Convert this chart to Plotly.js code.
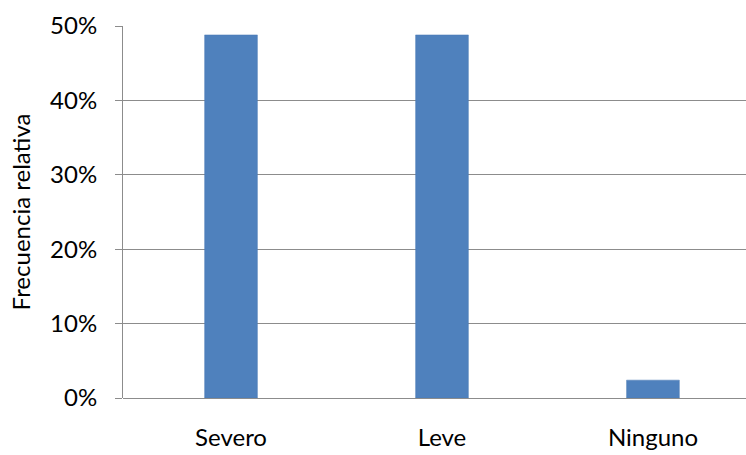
<!DOCTYPE html>
<html>
<head>
<meta charset="utf-8">
<script src="https://cdn.plot.ly/plotly-3.0.1.min.js"></script>
<style>
html,body{margin:0;padding:0;overflow:hidden;background:#fff;}
#chart{width:746px;height:455px;}
</style>
</head>
<body>
<div id="chart"></div>
<script>
var categories = ["Severo", "Leve", "Ninguno"];
var values = [0.488, 0.488, 0.024];
var yTickVals = [0, 0.1, 0.2, 0.3, 0.4, 0.5];
var yTickText = ["0%", "10%", "20%", "30%", "40%", "50%"];
var yTitle = "Frecuencia relativa";

var trace = {
  type: "bar",
  x: categories,
  y: values,
  marker: {color: "#4f81bd", line: {color: "#4a7ab5", width: 0.5}},
  hoverinfo: "x+y"
};

var layout = {
  width: 746,
  height: 455,
  margin: {l: 123, r: 0, t: 26, b: 57, pad: 0},
  paper_bgcolor: "#ffffff",
  plot_bgcolor: "#ffffff",
  bargap: 0.75,
  showlegend: false,
  font: {family: "Lato, 'Open Sans', sans-serif", size: 24, color: "#000000"},
  xaxis: {
    type: "category",
    range: [-0.512, 2.441],
    showgrid: false,
    showline: false,
    zeroline: false,
    ticks: "",
    ticklabelstandoff: 23,
    tickfont: {size: 24, color: "#000000"},
    fixedrange: true
  },
  yaxis: {
    range: [0, 0.5],
    tickvals: yTickVals,
    ticktext: yTickText,
    showgrid: true,
    gridcolor: "#8c8c8c",
    gridwidth: 1,
    zeroline: true,
    zerolinecolor: "#8c8c8c",
    zerolinewidth: 1,
    showline: true,
    linecolor: "#8c8c8c",
    linewidth: 1,
    ticks: "outside",
    ticklen: 7,
    tickcolor: "#8c8c8c",
    ticklabelstandoff: 13,
    tickfont: {size: 24, color: "#000000"},
    title: {text: yTitle, standoff: 12, font: {size: 24, color: "#000000"}},
    automargin: false,
    fixedrange: true
  }
};

Plotly.newPlot("chart", [trace], layout, {displayModeBar: false, staticPlot: true});
</script>
</body>
</html>
